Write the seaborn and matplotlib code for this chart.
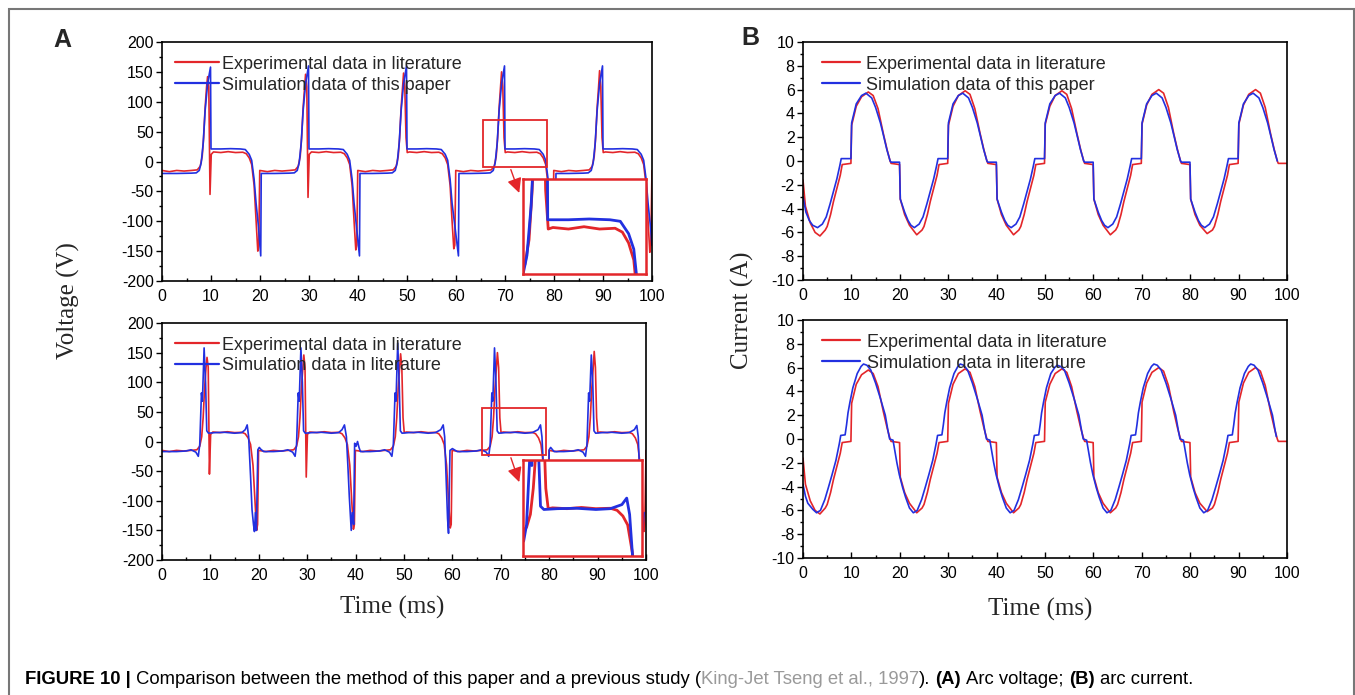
import matplotlib
matplotlib.use("Agg")
import matplotlib.pyplot as plt
import pandas as pd
import seaborn as sns
from matplotlib.patches import Rectangle
from matplotlib.ticker import MultipleLocator

# ---------------- data ----------------
# Arc voltage, experimental data in literature (red, both A panels)
V_EXP = [
 (0.0,-15),(1.5,-17),(3.0,-15),(4.5,-16),(6.0,-15),(7.2,-14),(7.8,-8),(8.2,8),(8.5,40),(8.8,90),(9.1,125),(9.3,142),(9.55,125),(9.8,-55),(10.05,12),(10.5,16),(12.0,15),(13.5,16.5),(15.0,15),(16.5,15.5),(17.2,13),(17.8,6),(18.3,-5),(18.8,-40),(19.2,-100),(19.55,-150),(19.75,-140),(19.95,-15),
 (21.5,-17),(23.0,-15),(24.5,-16),(26.0,-15),(27.2,-14),(27.8,-8),(28.2,8),(28.5,40),(28.8,90),(29.1,125),(29.3,146),(29.55,125),(29.8,-60),(30.05,12),(30.5,16),(32.0,15),(33.5,16.5),(35.0,15),(36.5,15.5),(37.2,13),(37.8,6),(38.3,-5),(38.8,-40),(39.2,-100),(39.55,-148),(39.75,-140),(39.95,-15),
 (41.5,-17),(43.0,-15),(44.5,-16),(46.0,-15),(47.2,-14),(47.8,-8),(48.2,8),(48.5,40),(48.8,90),(49.1,125),(49.3,148),(49.55,125),(49.8,40),(50.05,15),(50.5,16),(52.0,15),(53.5,16.5),(55.0,15),(56.5,15.5),(57.2,13),(57.8,6),(58.3,-5),(58.8,-40),(59.2,-100),(59.55,-146),(59.75,-140),(59.95,-15),
 (61.5,-17),(63.0,-15),(64.5,-16),(66.0,-15),(67.2,-14),(67.8,-8),(68.2,8),(68.5,40),(68.8,90),(69.1,125),(69.3,150),(69.55,125),(69.8,40),(70.05,15),(70.5,16),(72.0,15),(73.5,16.5),(75.0,15),(76.5,15.5),(77.2,13),(77.8,6),(78.3,-5),(78.8,-40),(79.2,-100),(79.55,-150),(79.75,-140),(79.95,-15),
 (81.5,-17),(83.0,-15),(84.5,-16),(86.0,-15),(87.2,-14),(87.8,-8),(88.2,8),(88.5,40),(88.8,90),(89.1,125),(89.3,152),(89.55,125),(89.8,40),(90.05,15),(90.5,16),(92.0,15),(93.5,16.5),(95.0,15),(96.5,15.5),(97.2,13),(97.8,6),(98.3,-5),(98.8,-40),(99.2,-100),(99.55,-152),(99.75,-140),(100.0,-15),
]
# Arc voltage, simulation data of this paper (blue, A top)
V_SIM_PAPER = [
 (0.0,-20),(3.0,-20),(6.0,-19.5),(7.0,-19),(7.6,-15),(8.0,-2),(8.4,30),(8.8,85),(9.3,130),(9.9,158),(10.0,21),(12.0,21),(14.0,21.5),(16.0,21),(17.0,20),(17.8,12),(18.3,2),(18.8,-30),(19.2,-70),(19.7,-110),(20.15,-158),(20.25,-20),
 (23.0,-20),(26.0,-19.5),(27.0,-19),(27.6,-15),(28.0,-2),(28.4,30),(28.8,85),(29.3,130),(29.9,160),(30.0,21),(32.0,21),(34.0,21.5),(36.0,21),(37.0,20),(37.8,12),(38.3,2),(38.8,-30),(39.2,-70),(39.7,-110),(40.3,-158),(40.4,-20),
 (43.0,-20),(46.0,-19.5),(47.0,-19),(47.6,-15),(48.0,-2),(48.4,30),(48.8,85),(49.3,130),(49.9,160),(50.0,21),(52.0,21),(54.0,21.5),(56.0,21),(57.0,20),(57.8,12),(58.3,2),(58.8,-30),(59.2,-70),(59.8,-110),(60.5,-158),(60.6,-20),
 (63.0,-20),(66.0,-19.5),(67.0,-19),(67.6,-15),(68.0,-2),(68.4,30),(68.8,85),(69.3,130),(69.9,160),(70.0,21),(72.0,21),(74.0,21.5),(76.0,21),(77.0,20),(77.8,12),(78.3,2),(78.8,-30),(79.2,-70),(79.7,-110),(80.3,-158),(80.4,-20),
 (83.0,-20),(86.0,-19.5),(87.0,-19),(87.6,-15),(88.0,-2),(88.4,30),(88.8,85),(89.3,130),(89.9,160),(90.0,21),(92.0,21),(94.0,21.5),(96.0,21),(97.0,20),(97.8,12),(98.3,2),(98.8,-30),(99.2,-70),(99.7,-110),(100.0,-140),
]
# Arc voltage, simulation data in literature (blue, A bottom)
V_SIM_LIT = [
 (0.0,-17),(1.0,-17),(3.0,-17),(5.0,-16),(6.0,-14),(7.0,-18),(7.5,-25),(7.8,-5),(8.15,82),(8.35,68),(8.7,158),(9.0,100),(9.25,18),(9.6,14),(11.0,15),(13.0,15.5),(15.0,14),(16.5,15),(17.2,20),(17.6,28),(17.9,8),(18.3,-59),(18.6,-115),(18.9,-140),(19.1,-152),(19.3,-120),(19.5,-150),(19.8,-14),(20.1,-10),
 (20.4,-13),(21.0,-17),(23.0,-17),(25.0,-16),(26.0,-14),(27.0,-18),(27.5,-25),(27.8,-5),(28.15,82),(28.35,68),(28.7,158),(29.0,100),(29.25,18),(29.6,14),(31.0,15),(33.0,15.5),(35.0,14),(36.5,15),(37.2,20),(37.7,28),(38.1,8),(38.4,-40),(38.7,-93),(39.1,-150),(39.3,-120),(39.6,-140),(39.8,-3),(40.1,-8),(40.4,0),(40.7,-10),(41.0,-17),
 (43.0,-17),(45.0,-16),(46.0,-14),(47.0,-18),(47.5,-25),(47.8,-5),(48.15,82),(48.35,68),(48.7,166),(49.0,100),(49.25,18),(49.6,14),(51.0,15),(53.0,15.5),(55.0,14),(56.5,15),(57.6,20),(58.1,28),(58.4,8),(58.7,-60),(59.0,-130),(59.2,-155),(59.5,-15),(60.0,-12),
 (61.0,-17),(63.0,-17),(65.0,-16),(66.0,-14),(67.0,-18),(67.5,-25),(67.8,-5),(68.15,82),(68.35,68),(68.7,158),(69.0,100),(69.25,18),(69.6,14),(71.0,15),(73.0,15.5),(75.0,14),(76.5,15),(77.7,20),(78.2,28),(78.5,8),(78.9,-59),(79.2,-115),(79.4,-152),(79.6,-120),(79.8,-150),(80.0,-14),(80.3,-10),
 (81.0,-17),(83.0,-17),(85.0,-16),(86.0,-14),(87.0,-18),(87.5,-25),(87.8,-5),(88.15,82),(88.35,68),(88.7,146),(89.0,100),(89.25,18),(89.6,14),(91.0,15),(93.0,15.5),(95.0,14),(96.5,15),(97.6,20),(98.1,27),(98.4,8),(98.7,-59),(99.0,-115),(99.3,-152),(99.6,-120),
]
# Arc current, experimental data in literature (red, both B panels)
I_EXP = [
 (0.0,-1.6),(0.5,-3.8),(1.5,-5.2),(2.5,-6.0),(3.5,-6.3),(4.6,-5.8),(5.0,-5.5),(5.7,-4.5),(6.3,-3.4),(7.0,-2.3),(7.7,-1.2),(8.1,-0.3),(9.9,-0.2),
 (10.05,3.0),(11.0,4.6),(12.1,5.4),(13.5,5.8),(14.5,5.5),(15.5,4.4),(16.6,2.3),(17.4,0.9),(18.0,0.0),(18.2,-0.2),(19.95,-0.3),
 (20.1,-3.2),(21.0,-4.5),(22.0,-5.4),(23.5,-6.2),(24.6,-5.8),(25.0,-5.5),(25.7,-4.5),(26.3,-3.4),(27.0,-2.3),(27.7,-1.2),(28.1,-0.3),(29.9,-0.2),
 (30.05,3.0),(31.0,4.6),(32.1,5.5),(33.5,5.9),(34.5,5.6),(35.5,4.4),(36.6,2.3),(37.4,0.9),(38.0,0.0),(38.2,-0.2),(39.95,-0.3),
 (40.1,-3.2),(41.0,-4.5),(42.0,-5.4),(43.5,-6.2),(44.6,-5.8),(45.0,-5.5),(45.7,-4.5),(46.3,-3.4),(47.0,-2.3),(47.7,-1.2),(48.1,-0.3),(49.9,-0.2),
 (50.05,3.1),(51.0,4.6),(52.1,5.5),(53.5,5.9),(54.5,5.6),(55.5,4.4),(56.6,2.3),(57.4,0.9),(58.0,0.0),(58.2,-0.2),(59.95,-0.3),
 (60.1,-3.2),(61.0,-4.5),(62.0,-5.4),(63.5,-6.2),(64.6,-5.8),(65.0,-5.5),(65.7,-4.5),(66.3,-3.4),(67.0,-2.3),(67.7,-1.2),(68.1,-0.3),(69.9,-0.2),
 (70.05,3.1),(71.0,4.7),(72.1,5.6),(73.5,6.0),(74.5,5.7),(75.5,4.5),(76.6,2.3),(77.4,0.9),(78.0,0.0),(78.2,-0.2),(79.95,-0.3),
 (80.1,-3.2),(81.0,-4.5),(82.0,-5.4),(83.5,-6.1),(84.6,-5.8),(85.0,-5.5),(85.7,-4.5),(86.3,-3.4),(87.0,-2.3),(87.7,-1.2),(88.1,-0.3),(89.9,-0.2),
 (90.05,3.1),(91.0,4.7),(92.1,5.6),(93.5,6.0),(94.5,5.7),(95.5,4.5),(96.6,2.3),(97.4,0.9),(98.0,0.0),(98.2,-0.2),(100.0,-0.2),
]
# Arc current, simulation data of this paper (blue, B top)
I_SIM_PAPER = [
 (0.0,-3.0),(0.6,-4.3),(1.3,-5.0),(2.0,-5.4),(3.0,-5.6),(4.0,-5.3),(4.8,-4.7),(5.6,-3.6),(6.2,-2.7),(7.0,-1.5),(7.6,-0.4),(7.9,0.2),(9.9,0.2),
 (10.05,3.2),(11.0,4.8),(12.1,5.5),(13.0,5.7),(14.2,5.3),(15.0,4.5),(16.0,3.2),(16.6,2.2),(17.3,1.0),(18.0,0.0),(18.2,-0.1),(19.95,-0.1),
 (20.1,-3.2),(21.0,-4.3),(21.7,-5.0),(22.3,-5.4),(23.0,-5.6),(24.0,-5.3),(24.8,-4.7),(25.6,-3.6),(26.2,-2.7),(27.0,-1.5),(27.6,-0.4),(27.9,0.2),(29.9,0.2),
 (30.05,3.2),(31.0,4.8),(32.1,5.5),(33.0,5.7),(34.2,5.3),(35.0,4.5),(36.0,3.2),(36.6,2.2),(37.3,1.0),(38.0,0.0),(38.2,-0.1),(39.95,-0.1),
 (40.1,-3.2),(41.0,-4.3),(41.7,-5.0),(42.3,-5.4),(43.0,-5.6),(44.0,-5.3),(44.8,-4.7),(45.6,-3.6),(46.2,-2.7),(47.0,-1.5),(47.6,-0.4),(47.9,0.2),(49.9,0.2),
 (50.05,3.2),(51.0,4.8),(52.1,5.5),(53.0,5.7),(54.2,5.3),(55.0,4.5),(56.0,3.2),(56.6,2.2),(57.3,1.0),(58.0,0.0),(58.2,-0.1),(59.95,-0.1),
 (60.1,-3.2),(61.0,-4.3),(61.7,-5.0),(62.3,-5.4),(63.0,-5.6),(64.0,-5.3),(64.8,-4.7),(65.6,-3.6),(66.2,-2.7),(67.0,-1.5),(67.6,-0.4),(67.9,0.2),(69.9,0.2),
 (70.05,3.2),(71.0,4.8),(72.1,5.5),(73.0,5.7),(74.2,5.3),(75.0,4.5),(76.0,3.2),(76.6,2.2),(77.3,1.0),(78.0,0.0),(78.2,-0.1),(79.95,-0.1),
 (80.1,-3.2),(81.0,-4.3),(81.7,-5.0),(82.3,-5.4),(83.0,-5.6),(84.0,-5.3),(84.8,-4.7),(85.6,-3.6),(86.2,-2.7),(87.0,-1.5),(87.6,-0.4),(87.9,0.2),(89.9,0.2),
 (90.05,3.2),(91.0,4.8),(92.1,5.5),(93.0,5.7),(94.2,5.3),(95.0,4.5),(96.0,3.2),(96.6,2.2),(97.3,1.0),(98.0,0.0),
]
# Arc current, simulation data in literature (blue, B bottom)
I_SIM_LIT = [
 (0.0,-3.8),(0.5,-4.8),(1.0,-5.4),(2.0,-5.9),(2.8,-6.2),(3.6,-6.0),(4.5,-5.1),(5.3,-4.0),(6.0,-3.0),(6.8,-1.8),(7.5,-0.4),(7.8,0.3),(8.7,0.35),
 (9.0,1.2),(9.3,2.2),(9.7,3.1),(10.3,4.3),(11.2,5.5),(12.0,6.1),(12.5,6.3),(13.2,6.2),(14.0,5.8),(15.0,4.7),(16.0,3.4),(17.0,2.0),(17.6,0.6),(17.9,0.0),(18.6,-0.1),(18.9,-0.8),(19.4,-2.0),(19.9,-3.0),
 (20.6,-4.1),(21.2,-4.9),(22.0,-5.8),(22.8,-6.2),(23.6,-6.0),(24.5,-5.1),(25.3,-4.0),(26.0,-3.0),(26.8,-1.8),(27.5,-0.4),(27.8,0.3),(28.7,0.35),
 (29.0,1.2),(29.3,2.2),(29.7,3.1),(30.3,4.3),(31.2,5.5),(32.0,6.1),(32.5,6.3),(33.2,6.2),(34.0,5.8),(35.0,4.7),(36.0,3.4),(37.0,2.0),(37.6,0.6),(37.9,0.0),(38.6,-0.1),(38.9,-0.8),(39.4,-2.0),(39.9,-3.0),
 (40.6,-4.1),(41.2,-4.9),(42.0,-5.8),(42.8,-6.2),(43.6,-6.0),(44.5,-5.1),(45.3,-4.0),(46.0,-3.0),(46.8,-1.8),(47.5,-0.4),(47.8,0.3),(48.7,0.35),
 (49.0,1.2),(49.3,2.2),(49.7,3.1),(50.3,4.3),(51.2,5.5),(52.0,6.0),(52.5,6.2),(53.2,6.1),(54.0,5.8),(55.0,4.7),(56.0,3.4),(57.0,2.0),(57.6,0.6),(57.9,0.0),(58.6,-0.1),(58.9,-0.8),(59.4,-2.0),(59.9,-3.0),
 (60.6,-4.1),(61.2,-4.9),(62.0,-5.8),(62.8,-6.2),(63.6,-6.0),(64.5,-5.1),(65.3,-4.0),(66.0,-3.0),(66.8,-1.8),(67.5,-0.4),(67.8,0.3),(68.7,0.35),
 (69.0,1.2),(69.3,2.2),(69.7,3.1),(70.3,4.3),(71.2,5.5),(72.0,6.1),(72.5,6.3),(73.2,6.2),(74.0,5.8),(75.0,4.7),(76.0,3.4),(77.0,2.0),(77.6,0.6),(77.9,0.0),(78.6,-0.1),(78.9,-0.8),(79.4,-2.0),(79.9,-3.0),
 (80.6,-4.1),(81.2,-4.9),(82.0,-5.8),(82.8,-6.2),(83.6,-6.0),(84.5,-5.1),(85.3,-4.0),(86.0,-3.0),(86.8,-1.8),(87.5,-0.4),(87.8,0.3),(88.7,0.35),
 (89.0,1.2),(89.3,2.2),(89.7,3.1),(90.3,4.3),(91.2,5.5),(92.0,6.1),(92.5,6.3),(93.2,6.2),(94.0,5.8),(95.0,4.7),(96.0,3.4),(97.0,2.0),(97.6,0.6),(97.8,0.2),
]

LABEL_EXP = "Experimental data in literature"
LABEL_PAPER = "Simulation data of this paper"
LABEL_LIT = "Simulation data in literature"
X_TICKS = list(range(0, 101, 10))
V_TICKS = list(range(-200, 201, 50))
I_TICKS = list(range(-10, 11, 2))

# ---------------- style ----------------
sns.set_theme(style="white")
plt.rcParams["font.family"] = ["Liberation Sans", "DejaVu Sans"]
plt.rcParams["axes.unicode_minus"] = False
SERIF = ["Liberation Serif", "DejaVu Serif"]
RED = "#e3262a"
BLUE = "#2230e0"

W, H = 1355, 695
fig = plt.figure(figsize=(W / 100, H / 100), dpi=100)
fig.patch.set_facecolor("white")


def ax_px(l, t, r, b):
    return fig.add_axes([l / W, 1 - b / H, (r - l) / W, (b - t) / H])


def draw(ax, pts, color, lw=1.2, label=None):
    df = pd.DataFrame(pts, columns=["t", "v"])
    sns.lineplot(data=df, x="t", y="v", color=color, lw=lw, ax=ax,
                 estimator=None, sort=False, label=label)


def style(ax, ylim, ticks, minor):
    ax.set_xlim(0, 100)
    ax.set_ylim(*ylim)
    ax.set_xticks(X_TICKS)
    ax.set_yticks(ticks)
    ax.xaxis.set_minor_locator(MultipleLocator(5))
    ax.yaxis.set_minor_locator(MultipleLocator(minor))
    ax.set_xlabel("")
    ax.set_ylabel("")
    for s in ax.spines.values():
        s.set_color("black")
        s.set_linewidth(1.2)
        s.set_visible(True)
    ax.tick_params(axis="y", which="both", direction="out", left=True,
                   labelsize=11.5, pad=2, colors="black", width=1)
    ax.tick_params(axis="y", which="major", length=4)
    ax.tick_params(axis="y", which="minor", length=2.5)
    ax.tick_params(axis="x", which="both", direction="in", bottom=True,
                   labelsize=11.5, pad=6, colors="black", width=1)
    ax.tick_params(axis="x", which="major", length=4)
    ax.tick_params(axis="x", which="minor", length=2.5)
    ax.grid(False)


def legend(ax, x_anchor, handlelength, textpad):
    ax.legend(loc="upper left", bbox_to_anchor=(x_anchor, 0.943), frameon=False,
              fontsize=13, borderpad=0, borderaxespad=0, handlelength=handlelength,
              handletextpad=textpad, labelspacing=0.22)
    for line in ax.get_legend().get_lines():
        line.set_linewidth(1.6)


def inset(ax, bounds, pts_red, pts_blue, xlim, ylim):
    ins = ax.inset_axes(bounds)
    ins.set_facecolor("white")
    draw(ins, pts_red, RED, lw=2.0)
    draw(ins, pts_blue, BLUE, lw=2.0)
    ins.set_xlim(*xlim)
    ins.set_ylim(*ylim)
    ins.set_xticks([])
    ins.set_yticks([])
    ins.set_xlabel("")
    ins.set_ylabel("")
    if ins.get_legend():
        ins.get_legend().remove()
    for s in ins.spines.values():
        s.set_color(RED)
        s.set_linewidth(1.8)
    return ins


axA1 = ax_px(162, 42, 652, 281)
axA2 = ax_px(162, 323, 646, 560)
axB1 = ax_px(803, 42, 1287, 280)
axB2 = ax_px(803, 320, 1287, 558)

# Panel A top
draw(axA1, V_EXP, RED, label=LABEL_EXP)
draw(axA1, V_SIM_PAPER, BLUE, label=LABEL_PAPER)
style(axA1, (-200, 200), V_TICKS, 25)
legend(axA1, 0.027, 2.45, 0.15)
axA1.add_patch(Rectangle((65.5, -9.2), 13.1, 78.7, fill=False, ec=RED, lw=1.3, zorder=4))
axA1.annotate("", xy=(73.1, -57), xytext=(71.0, -9.2),
              arrowprops=dict(arrowstyle="-|>", color=RED, lw=1.0, mutation_scale=22))
inset(axA1, [0.737, 0.03, 0.251, 0.3975], V_EXP, V_SIM_PAPER, (67.63, 79.49), (-14, 47.5))

# Panel A bottom
draw(axA2, V_EXP, RED, label=LABEL_EXP)
draw(axA2, V_SIM_LIT, BLUE, label=LABEL_LIT)
style(axA2, (-200, 200), V_TICKS, 25)
legend(axA2, 0.027, 2.45, 0.15)
axA2.add_patch(Rectangle((66.1, -23), 13.2, 79.5, fill=False, ec=RED, lw=1.3, zorder=4))
axA2.annotate("", xy=(74.0, -73), xytext=(71.9, -23),
              arrowprops=dict(arrowstyle="-|>", color=RED, lw=1.0, mutation_scale=22))
inset(axA2, [0.746, 0.0175, 0.246, 0.405], V_EXP, V_SIM_LIT, (67.44, 79.8), (-43, 75))

# Panel B top
draw(axB1, I_EXP, RED, label=LABEL_EXP)
draw(axB1, I_SIM_PAPER, BLUE, label=LABEL_PAPER)
style(axB1, (-10, 10), I_TICKS, 1)
legend(axB1, 0.039, 2.1, 0.33)

# Panel B bottom
draw(axB2, I_EXP, RED, label=LABEL_EXP)
draw(axB2, I_SIM_LIT, BLUE, label=LABEL_LIT)
style(axB2, (-10, 10), I_TICKS, 1)
legend(axB2, 0.039, 2.1, 0.38)

# axis titles, panel letters
fig.text(68 / W, 1 - 301 / H, "Voltage (V)", rotation=90, family=SERIF, fontsize=18,
         ha="center", va="center")
fig.text(742 / W, 1 - 310 / H, "Current (A)", rotation=90, family=SERIF, fontsize=18,
         ha="center", va="center")
fig.text(392 / W, 1 - 607 / H, "Time (ms)", family=SERIF, fontsize=18, ha="center", va="center")
fig.text(1040 / W, 1 - 609 / H, "Time (ms)", family=SERIF, fontsize=18, ha="center", va="center")
fig.text(62 / W, 1 - 40 / H, "A", fontsize=18, fontweight="bold", ha="center", va="center")
fig.text(750 / W, 1 - 38 / H, "B", fontsize=18, fontweight="bold", ha="center", va="center")

# outer frame
fig.patches.append(Rectangle((9 / W, -0.05), (1354 - 9) / W, 1 - 9 / H + 0.05,
                             transform=fig.transFigure, fill=False, ec="#777777", lw=1.5))

# caption
fig.canvas.draw()
renderer = fig.canvas.get_renderer()
CAP_SIZE = 13.3


def width_px(s, weight="normal"):
    t = fig.text(0, 0, s, fontsize=CAP_SIZE, fontweight=weight)
    w = t.get_window_extent(renderer=renderer).width
    t.remove()
    return w


space = width_px("x x") - width_px("xx")
pieces = [
    ("FIGURE 10 |", "bold", "black", False),
    ("Comparison between the method of this paper and a previous study (", "normal", "black", True),
    ("King-Jet Tseng et al., 1997", "normal", "#9a9a9a", False),
    (").", "normal", "black", False),
    ("(A)", "bold", "black", True),
    ("Arc voltage;", "normal", "black", True),
    ("(B)", "bold", "black", True),
    ("arc current.", "normal", "black", True),
]
x = 25.0
for txt, weight, col, sp in pieces:
    if sp:
        x += space
    t = fig.text(x / W, 1 - 679 / H, txt, fontsize=CAP_SIZE, fontweight=weight, color=col,
                 ha="left", va="center")
    x += t.get_window_extent(renderer=renderer).width

fig.savefig("out.png", dpi=100, facecolor="white")
